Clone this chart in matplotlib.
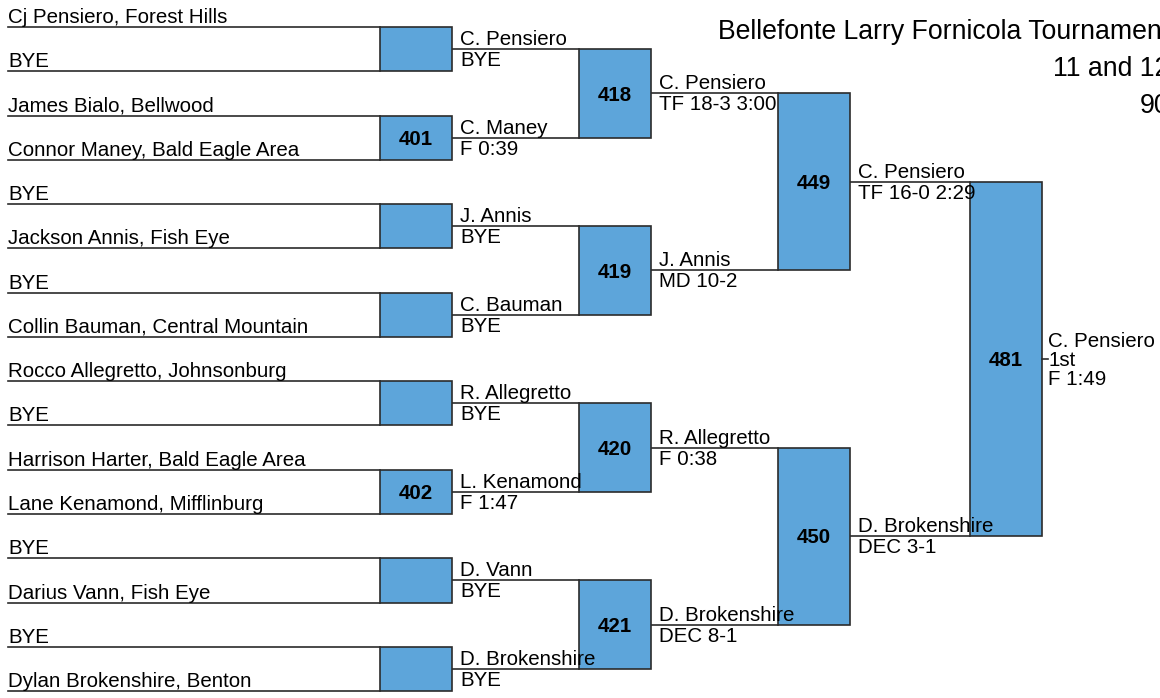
import matplotlib.pyplot as plt

# =========================
# DATA
# =========================

entrants = [
    'Cj Pensiero, Forest Hills',
    'BYE',
    'James Bialo, Bellwood',
    'Connor Maney, Bald Eagle Area',
    'BYE',
    'Jackson Annis, Fish Eye',
    'BYE',
    'Collin Bauman, Central Mountain',
    'Rocco Allegretto, Johnsonburg',
    'BYE',
    'Harrison Harter, Bald Eagle Area',
    'Lane Kenamond, Mifflinburg',
    'BYE',
    'Darius Vann, Fish Eye',
    'BYE',
    'Dylan Brokenshire, Benton',
]

match_numbers = [
    ['', '401', '', '', '', '402', '', ''],
    ['418', '419', '420', '421'],
    ['449', '450'],
    ['481'],
]

winners = [
    ['C. Pensiero', 'C. Maney', 'J. Annis', 'C. Bauman',
     'R. Allegretto', 'L. Kenamond', 'D. Vann', 'D. Brokenshire'],
    ['C. Pensiero', 'J. Annis', 'R. Allegretto', 'D. Brokenshire'],
    ['C. Pensiero', 'D. Brokenshire'],
    ['C. Pensiero'],
]

results = [
    ['BYE', 'F 0:39', 'BYE', 'BYE', 'BYE', 'F 1:47', 'BYE', 'BYE'],
    ['TF 18-3 3:00', 'MD 10-2', 'F 0:38', 'DEC 8-1'],
    ['TF 16-0 2:29', 'DEC 3-1'],
    ['F 1:49'],
]

place = '1st'

title_lines = ['Bellefonte Larry Fornicola Tournament', '11 and 12', '90']

# =========================
# LAYOUT
# =========================

W, H = 1160, 698
row_top = 27
row_step = 44.27
box_x = [380, 579, 778, 970]
box_w = 72
line_start = 8

box_color = '#5DA5DA'
edge_color = '#2b2b2b'
font = 'Liberation Sans'
fs = 14.8

plt.rcParams['font.family'] = [font, 'DejaVu Sans']

fig = plt.figure(figsize=(W / 100, H / 100), dpi=100)
ax = fig.add_axes([0, 0, 1, 1])
ax.set_xlim(0, W)
ax.set_ylim(H, 0)
ax.axis('off')

# =========================
# ENTRANTS
# =========================

slots = [row_top + k * row_step for k in range(len(entrants))]

for name, y in zip(entrants, slots):
    ax.plot([line_start, box_x[0]], [y, y], color=edge_color, lw=1.2)
    ax.text(line_start, y - 4, name, fontsize=fs, va='baseline', ha='left')

# =========================
# ROUNDS
# =========================

for r in range(len(match_numbers)):
    new_slots = []
    x0 = box_x[r]
    x1 = x0 + box_w
    for i, num in enumerate(match_numbers[r]):
        top = slots[2 * i]
        bottom = slots[2 * i + 1]
        mid = (top + bottom) / 2
        ax.add_patch(plt.Rectangle((x0, top), box_w, bottom - top,
                                   facecolor=box_color, edgecolor=edge_color,
                                   lw=1.2, zorder=2))
        if num:
            ax.text(x0 + box_w / 2, mid + 7.3, num, fontsize=fs,
                    fontweight='bold', ha='center', va='baseline', zorder=3)
        new_slots.append(mid)

        if r < len(match_numbers) - 1:
            x_next = box_x[r + 1]
            ax.plot([x1, x_next], [mid, mid], color=edge_color, lw=1.2, zorder=1)
            ax.text(x1 + 8, mid - 4, winners[r][i], fontsize=fs,
                    va='baseline', ha='left', zorder=4)
            ax.text(x1 + 8, mid + 17, results[r][i], fontsize=fs,
                    va='baseline', ha='left', zorder=4)
        else:
            ax.plot([x1, x1 + 6], [mid, mid], color=edge_color, lw=1.2)
            ax.text(x1 + 6, mid - 12.5, winners[r][i], fontsize=fs,
                    va='baseline', ha='left')
            ax.text(x1 + 6, mid + 6.5, place, fontsize=fs,
                    va='baseline', ha='left')
            ax.text(x1 + 6, mid + 25.5, results[r][i], fontsize=fs,
                    va='baseline', ha='left')
    slots = new_slots

# =========================
# TITLE (runs off the right edge, as in the original)
# =========================

for k, line in enumerate(title_lines):
    ax.text(1169, 39 + k * 37, line, fontsize=19.2, ha='right', va='baseline')

fig.savefig('out.png', dpi=100)
